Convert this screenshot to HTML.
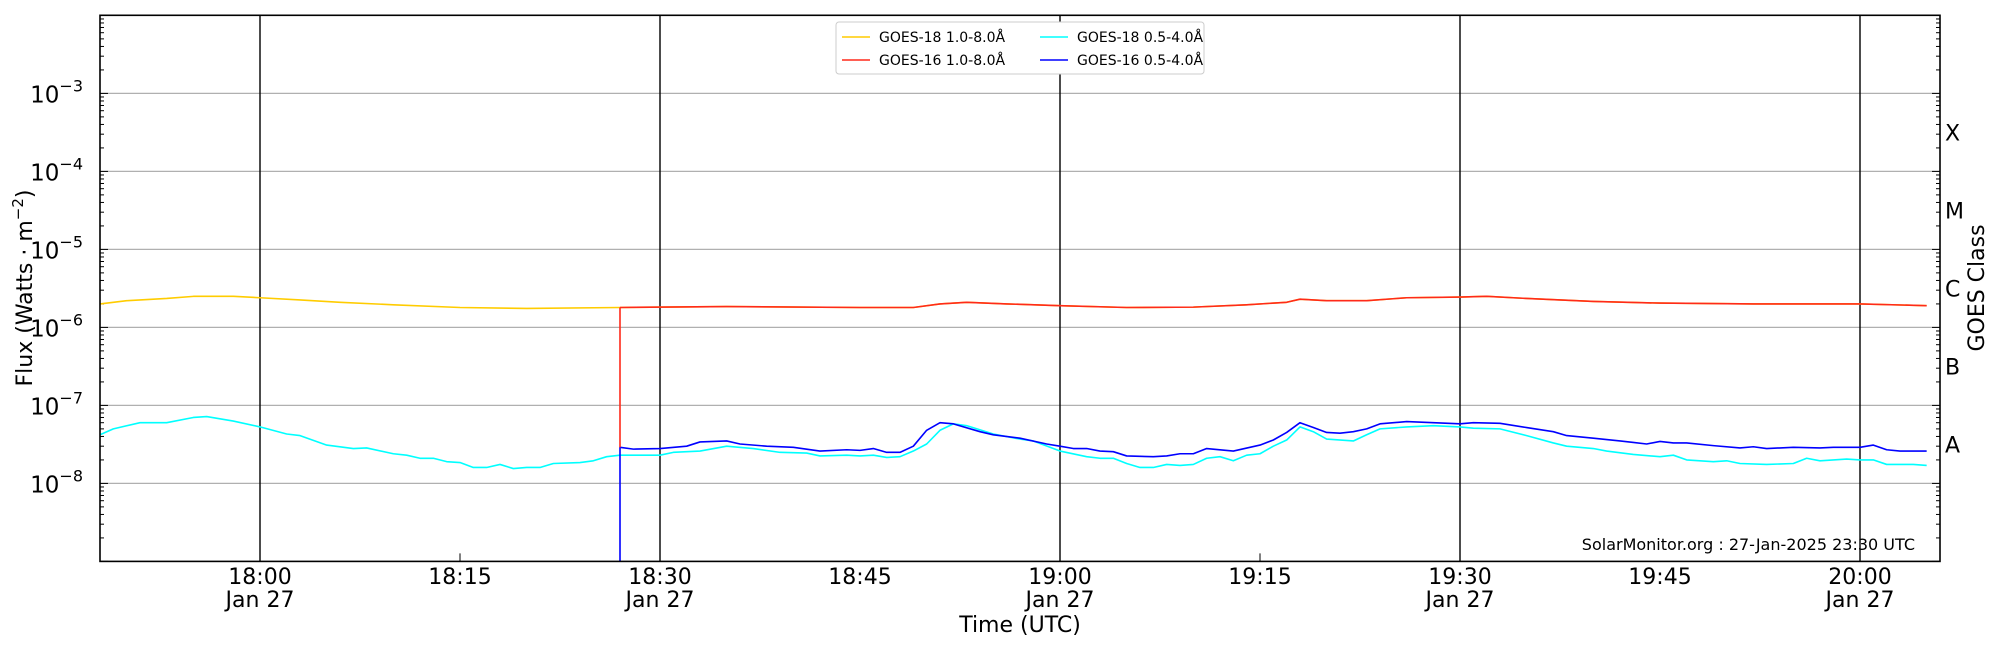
<!DOCTYPE html>
<html><head><meta charset="utf-8">
<style>
html,body{margin:0;padding:0;background:#fff;}
svg{display:block;font-family:"DejaVu Sans","Liberation Sans",sans-serif;}
</style></head>
<body>
<svg id="s" width="2000" height="650" xmlns="http://www.w3.org/2000/svg"></svg>
<script>
const L=100,R=1940,T=15.3,B=561.4,D=78;
const X=m=>260+m*400/30;
const Y=v=>B-(Math.log10(v)+9)*D;
let h='';
for(let e=-8;e<=-3;e++){const y=Y(Math.pow(10,e));h+=`<line x1="${L}" x2="${R}" y1="${y}" y2="${y}" stroke="#b0b0b0" stroke-width="1.2"/>`;}
[0,30,60,90,120].forEach(m=>{h+=`<line x1="${X(m)}" x2="${X(m)}" y1="${T}" y2="${B}" stroke="#000" stroke-width="1.4"/>`;});
for(let e=-9;e<-2;e++){for(let k=1;k<10;k++){const y=Y(k*Math.pow(10,e));if(y<T-0.5)continue;const len=k==1?8:4;
h+=`<line x1="${L}" x2="${L+len}" y1="${y}" y2="${y}" stroke="#000"/>`;
h+=`<line x1="${R-len}" x2="${R}" y1="${y}" y2="${y}" stroke="#000"/>`;}}
[15,75].forEach(m=>{h+=`<line x1="${X(m)}" x2="${X(m)}" y1="${B-8}" y2="${B}" stroke="#000"/>`;});
function pl(pts,c){return `<polyline fill="none" stroke="${c}" stroke-width="1.6" stroke-linejoin="round" points="${pts.map(p=>X(p[0])+','+Y(p[1])).join(' ')}"/>`;}
const longD=[[-12,2e-6],[-10,2.2e-6],[-7,2.35e-6],[-5,2.5e-6],[-2,2.5e-6],[0,2.4e-6],[3,2.25e-6],[6,2.1e-6],[10,1.95e-6],[15,1.8e-6],[20,1.75e-6],[27,1.8e-6]];
const red=[[27,1.8e-6],[35,1.85e-6],[45,1.8e-6],[49,1.8e-6],[51,2e-6],[53,2.1e-6],[56,2.0e-6],[60,1.9e-6],[65,1.8e-6],[70,1.82e-6],[74,1.95e-6],[77,2.1e-6],[78,2.3e-6],[80,2.2e-6],[83,2.2e-6],[86,2.4e-6],[90,2.45e-6],[92,2.5e-6],[95,2.35e-6],[100,2.15e-6],[105,2.05e-6],[112,2.0e-6],[120,2.0e-6],[125,1.9e-6]];
const cyan=[[-12,4.2e-8],[-11,5e-8],[-9,6e-8],[-7,6e-8],[-5,7e-8],[-4,7.2e-8],[-2,6.3e-8],[0,5.3e-8],[2,4.3e-8],[3,4.1e-8],[5,3.1e-8],[7,2.8e-8],[8,2.85e-8],[10,2.4e-8],[11,2.3e-8],[12,2.1e-8],[13,2.1e-8],[14,1.9e-8],[15,1.85e-8],[16,1.6e-8],[17,1.6e-8],[18,1.75e-8],[19,1.55e-8],[20,1.6e-8],[21,1.6e-8],[22,1.8e-8],[24,1.85e-8],[25,1.95e-8],[26,2.2e-8],[27,2.3e-8],[30,2.3e-8],[31,2.5e-8],[33,2.6e-8],[35,3e-8],[37,2.8e-8],[39,2.5e-8],[41,2.45e-8],[42,2.25e-8],[44,2.3e-8],[45,2.25e-8],[46,2.3e-8],[47,2.15e-8],[48,2.2e-8],[49,2.6e-8],[50,3.2e-8],[51,4.8e-8],[52,5.8e-8],[53,5.5e-8],[55,4.3e-8],[57,3.7e-8],[58,3.5e-8],[60,2.6e-8],[62,2.2e-8],[63,2.1e-8],[64,2.1e-8],[65,1.8e-8],[66,1.6e-8],[67,1.6e-8],[68,1.75e-8],[69,1.7e-8],[70,1.75e-8],[71,2.1e-8],[72,2.2e-8],[73,1.95e-8],[74,2.3e-8],[75,2.4e-8],[76,3e-8],[77,3.6e-8],[78,5.3e-8],[79,4.6e-8],[80,3.7e-8],[82,3.5e-8],[83,4.2e-8],[84,5e-8],[86,5.3e-8],[88,5.5e-8],[90,5.3e-8],[91,5.1e-8],[93,5e-8],[95,4.1e-8],[97,3.3e-8],[98,3e-8],[100,2.8e-8],[101,2.6e-8],[103,2.35e-8],[105,2.2e-8],[106,2.3e-8],[107,2e-8],[109,1.9e-8],[110,1.95e-8],[111,1.8e-8],[113,1.75e-8],[115,1.8e-8],[116,2.1e-8],[117,1.95e-8],[119,2.05e-8],[120,2e-8],[121,2e-8],[122,1.75e-8],[124,1.75e-8],[125,1.7e-8]];
const blue=[[27,1e-9],[27,2.9e-8],[28,2.75e-8],[30,2.8e-8],[32,3e-8],[33,3.4e-8],[35,3.5e-8],[36,3.2e-8],[38,3e-8],[40,2.9e-8],[42,2.6e-8],[44,2.7e-8],[45,2.65e-8],[46,2.8e-8],[47,2.5e-8],[48,2.5e-8],[49,3e-8],[50,4.8e-8],[51,6e-8],[52,5.8e-8],[54,4.6e-8],[55,4.2e-8],[57,3.8e-8],[59,3.2e-8],[60,3e-8],[61,2.8e-8],[62,2.8e-8],[63,2.6e-8],[64,2.55e-8],[65,2.25e-8],[67,2.2e-8],[68,2.25e-8],[69,2.4e-8],[70,2.4e-8],[71,2.8e-8],[73,2.6e-8],[75,3.1e-8],[76,3.6e-8],[77,4.5e-8],[78,6e-8],[79,5.2e-8],[80,4.5e-8],[81,4.4e-8],[82,4.6e-8],[83,5e-8],[84,5.8e-8],[86,6.2e-8],[88,6e-8],[90,5.8e-8],[91,6e-8],[93,5.9e-8],[95,5.2e-8],[97,4.6e-8],[98,4.1e-8],[100,3.8e-8],[102,3.5e-8],[103,3.35e-8],[104,3.2e-8],[105,3.45e-8],[106,3.3e-8],[107,3.3e-8],[109,3.05e-8],[111,2.85e-8],[112,2.95e-8],[113,2.8e-8],[115,2.9e-8],[117,2.85e-8],[118,2.9e-8],[120,2.9e-8],[121,3.1e-8],[122,2.7e-8],[123,2.6e-8],[125,2.6e-8]];
h+=pl(longD,'#ffcc00');h+=pl(red,'#ffcc00');
h+=pl(cyan,'#00ffff');
h+=pl(blue,'#0000ff');
h+=`<polyline fill="none" stroke="#ff2a1a" stroke-width="1.6" points="${X(27)},${Y(2.9e-8)} ${X(27)},${Y(1.8e-6)}"/>`;
h+=pl(red,'#ff2a1a');
h+=`<rect x="${L}" y="${T}" width="${R-L}" height="${B-T}" fill="none" stroke="#000" stroke-width="1.6"/>`;
for(let e=-8;e<=-3;e++){const y=Y(Math.pow(10,e));h+=`<text x="83" y="${y+9}" font-size="23" text-anchor="end">10<tspan dy="-11" font-size="16">−${-e}</tspan></text>`;}
[[0,'18:00',1],[15,'18:15',0],[30,'18:30',1],[45,'18:45',0],[60,'19:00',1],[75,'19:15',0],[90,'19:30',1],[105,'19:45',0],[120,'20:00',1]].forEach(a=>{
h+=`<text x="${X(a[0])}" y="584" font-size="22" text-anchor="middle">${a[1]}</text>`;
if(a[2])h+=`<text x="${X(a[0])}" y="607" font-size="22" text-anchor="middle">Jan 27</text>`;});
h+=`<text x="1020" y="632" font-size="22" text-anchor="middle">Time (UTC)</text>`;
h+=`<text transform="translate(32,288) rotate(-90)" font-size="22" text-anchor="middle">Flux (Watts · m<tspan dy="-9" font-size="15">−2</tspan><tspan dy="9">)</tspan></text>`;
[['X',-3.5],['M',-4.5],['C',-5.5],['B',-6.5],['A',-7.5]].forEach(a=>{h+=`<text x="1945" y="${Y(Math.pow(10,a[1]))+8}" font-size="22">${a[0]}</text>`;});
h+=`<text transform="translate(1984,288) rotate(-90)" font-size="22" text-anchor="middle">GOES Class</text>`;
h+=`<text x="1915" y="550" font-size="16" text-anchor="end">SolarMonitor.org : 27-Jan-2025 23:30 UTC</text>`;
h+=`<rect x="836" y="22" width="368" height="52" rx="3" fill="#fff" stroke="#ccc"/>`;
[[0,0,'#ffcc00','GOES-18 1.0-8.0Å'],[0,1,'#ff2a1a','GOES-16 1.0-8.0Å'],[1,0,'#00ffff','GOES-18 0.5-4.0Å'],[1,1,'#0000ff','GOES-16 0.5-4.0Å']].forEach(a=>{
const x0=a[0]?1040:842,y=37+a[1]*23;
h+=`<line x1="${x0}" x2="${x0+28}" y1="${y}" y2="${y}" stroke="${a[2]}" stroke-width="1.6"/>`;
h+=`<text x="${x0+37}" y="${y+5}" font-size="14">${a[3]}</text>`;});
document.getElementById('s').innerHTML=h;
</script>
</body></html>
